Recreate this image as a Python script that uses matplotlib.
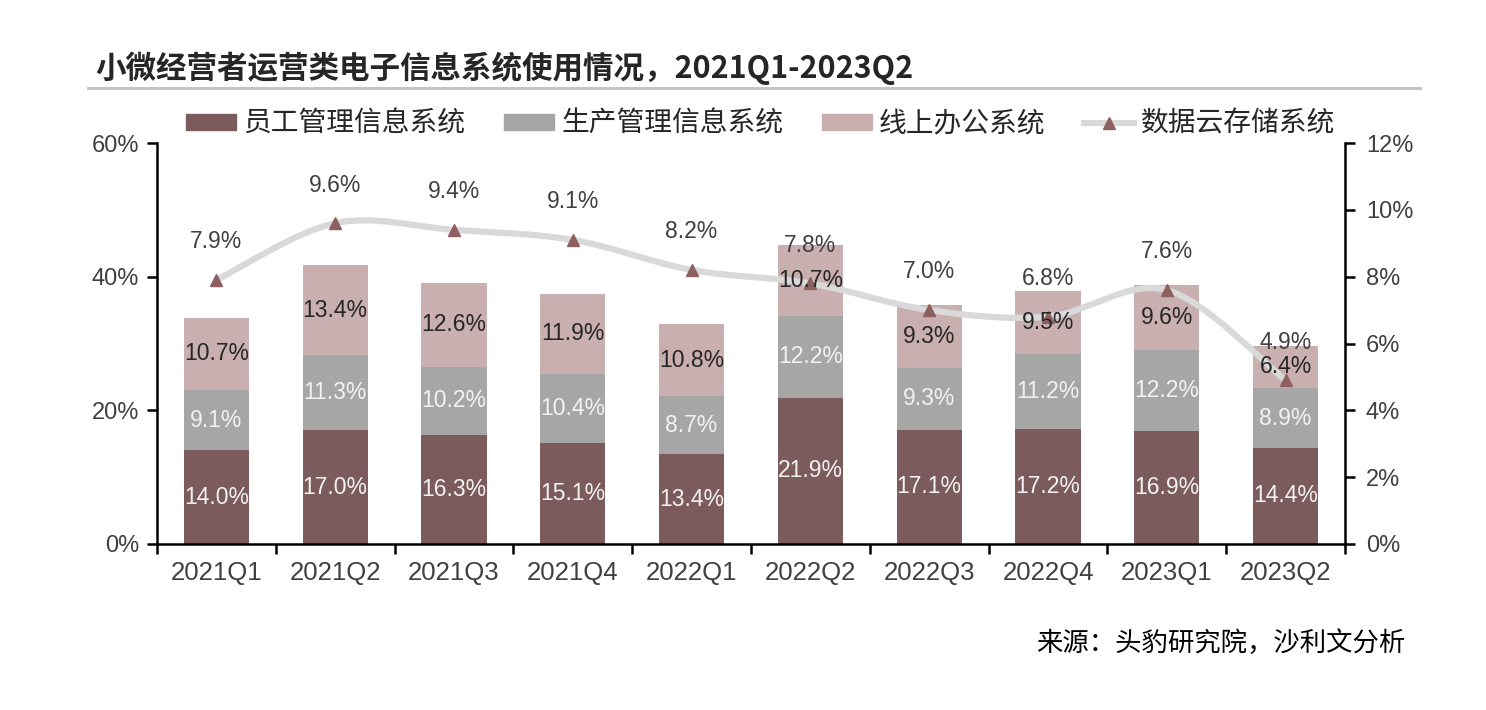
import matplotlib
matplotlib.use("Agg")
import matplotlib.pyplot as plt
import numpy as np
from matplotlib.path import Path
from matplotlib.patches import PathPatch, Patch
from matplotlib.lines import Line2D

categories = ["2021Q1", "2021Q2", "2021Q3", "2021Q4", "2022Q1",
              "2022Q2", "2022Q3", "2022Q4", "2023Q1", "2023Q2"]
staff_mgmt = [14.0, 17.0, 16.3, 15.1, 13.4, 21.9, 17.1, 17.2, 16.9, 14.4]
prod_mgmt = [9.1, 11.3, 10.2, 10.4, 8.7, 12.2, 9.3, 11.2, 12.2, 8.9]
online_office = [10.7, 13.4, 12.6, 11.9, 10.8, 10.7, 9.3, 9.5, 9.6, 6.4]
cloud_storage = [7.9, 9.6, 9.4, 9.1, 8.2, 7.8, 7.0, 6.8, 7.6, 4.9]
series_names = ["员工管理信息系统", "生产管理信息系统", "线上办公系统", "数据云存储系统"]
left_ticks = [0, 20, 40, 60]
right_ticks = [0, 2, 4, 6, 8, 10, 12]
title = "小微经营者运营类电子信息系统使用情况，2021Q1-2023Q2"
source = "来源：头豹研究院，沙利文分析"

CJK = "Noto Sans CJK SC"
NUM = ["Liberation Sans", CJK]
plt.rcParams['font.family'] = [CJK, "DejaVu Sans"]

c_bottom = "#7B5B5B"
c_mid = "#A6A6A6"
c_top = "#C9AFAF"
c_line = "#D9D9D9"
c_marker = "#8E6060"

fig = plt.figure(figsize=(14.86, 7.10), dpi=100)
ax = fig.add_axes([157/1486, 1-544/710, (1345-157)/1486, (544-143)/710])
ax2 = ax.twinx()

x = np.arange(len(categories))
w = 0.55
b1 = np.array(staff_mgmt)
b2 = np.array(prod_mgmt)
b3 = np.array(online_office)
ax.bar(x, b1, w, color=c_bottom, zorder=2)
ax.bar(x, b2, w, bottom=b1, color=c_mid, zorder=2)
ax.bar(x, b3, w, bottom=b1+b2, color=c_top, zorder=2)

ax.set_xlim(-0.5, len(categories)-0.5)
ax.set_ylim(0, 60)
ax2.set_ylim(0, 12)

# smooth curve (Catmull-Rom -> cubic Bezier) through the data points
y = np.array(cloud_storage, dtype=float)
pts = np.column_stack([x, y])
verts = [tuple(pts[0])]
codes = [Path.MOVETO]
n = len(pts)
for i in range(n-1):
    p0 = pts[i-1] if i > 0 else pts[i]
    p1 = pts[i]
    p2 = pts[i+1]
    p3 = pts[i+2] if i+2 < n else pts[i+1]
    c1 = p1 + (p2 - p0) / 6.0
    c2 = p2 - (p3 - p1) / 6.0
    verts += [tuple(c1), tuple(c2), tuple(p2)]
    codes += [Path.CURVE4]*3
ax2.add_patch(PathPatch(Path(verts, codes), fill=False, edgecolor=c_line,
                        lw=4.5, capstyle='round', zorder=3))
ax2.plot(x, y, linestyle='none', marker='^', ms=8, color=c_marker, zorder=4)
for i in range(n):
    ax2.annotate(f"{y[i]:.1f}%", (x[i], y[i]), xytext=(0, 27.5),
                 textcoords='offset points', ha='center', va='center',
                 fontsize=16.5, color="#404040", family=NUM, zorder=6)

# bar labels (drawn on ax2 so they sit above the line)
for i in range(len(x)):
    ax2.text(x[i], b1[i]/2, f"{b1[i]:.1f}%", ha='center', va='center',
             color="#F2F2F2", fontsize=16.5, family=NUM, zorder=7,
             transform=ax.transData)
    ax2.text(x[i], b1[i]+b2[i]/2, f"{b2[i]:.1f}%", ha='center', va='center',
             color="#F2F2F2", fontsize=16.5, family=NUM, zorder=7,
             transform=ax.transData)
    ax2.text(x[i], b1[i]+b2[i]+b3[i]/2, f"{b3[i]:.1f}%", ha='center', va='center',
             color="#262626", fontsize=16.5, family=NUM, zorder=7,
             transform=ax.transData)

# axes styling
for a in (ax, ax2):
    a.spines['top'].set_visible(False)
for s in ('left', 'right', 'bottom'):
    ax2.spines[s].set_linewidth(1.8)
    ax.spines[s].set_linewidth(1.8)
ax.spines['right'].set_visible(False)
ax2.spines['left'].set_visible(False)
ax2.spines['bottom'].set_visible(False)

ax.set_yticks(left_ticks)
ax.set_yticklabels([f"{t}%" for t in left_ticks], family=NUM, fontsize=17, color="#404040")
ax2.set_yticks(right_ticks)
ax2.set_yticklabels([f"{t}%" for t in right_ticks], family=NUM, fontsize=17, color="#404040")
ax.tick_params(axis='y', direction='out', length=7, width=1.8, pad=6)
ax2.tick_params(axis='y', direction='out', length=7, width=1.8, pad=8)

ax.set_xticks(x)
ax.set_xticklabels(categories, family=NUM, fontsize=18.5, color="#404040")
ax.set_xticks(np.arange(-0.5, len(categories), 1.0), minor=True)
ax.tick_params(axis='x', which='major', length=0, pad=12)
ax.tick_params(axis='x', which='minor', direction='out', length=7, width=1.8)

# title & rule
fig.text(95/1486, 1-68/710, title, fontsize=22, color="#262626", va='center', ha='left',
         family=[CJK, "DejaVu Sans"], weight='bold')
fig.add_artist(Line2D([88/1486, 1420/1486], [1-88/710, 1-88/710], color="#BFBFBF", lw=2))

# legend
handles = [Patch(color=c_bottom), Patch(color=c_mid), Patch(color=c_top),
           Line2D([0], [0], color=c_line, lw=4.5, marker='^', ms=8,
                  markerfacecolor=c_marker, markeredgecolor=c_marker)]
fig.legend(handles, series_names, loc='center', bbox_to_anchor=(761/1486, 1-124/710),
           ncol=4, frameon=False, fontsize=20, handlelength=1.8, handleheight=0.5,
           columnspacing=1.4, handletextpad=0.25, labelcolor="#262626")

fig.text(1405/1486, 1-643/710, source, fontsize=19, style='italic', color="#000000",
         ha='right', va='center')

fig.savefig("out.png", dpi=100)
